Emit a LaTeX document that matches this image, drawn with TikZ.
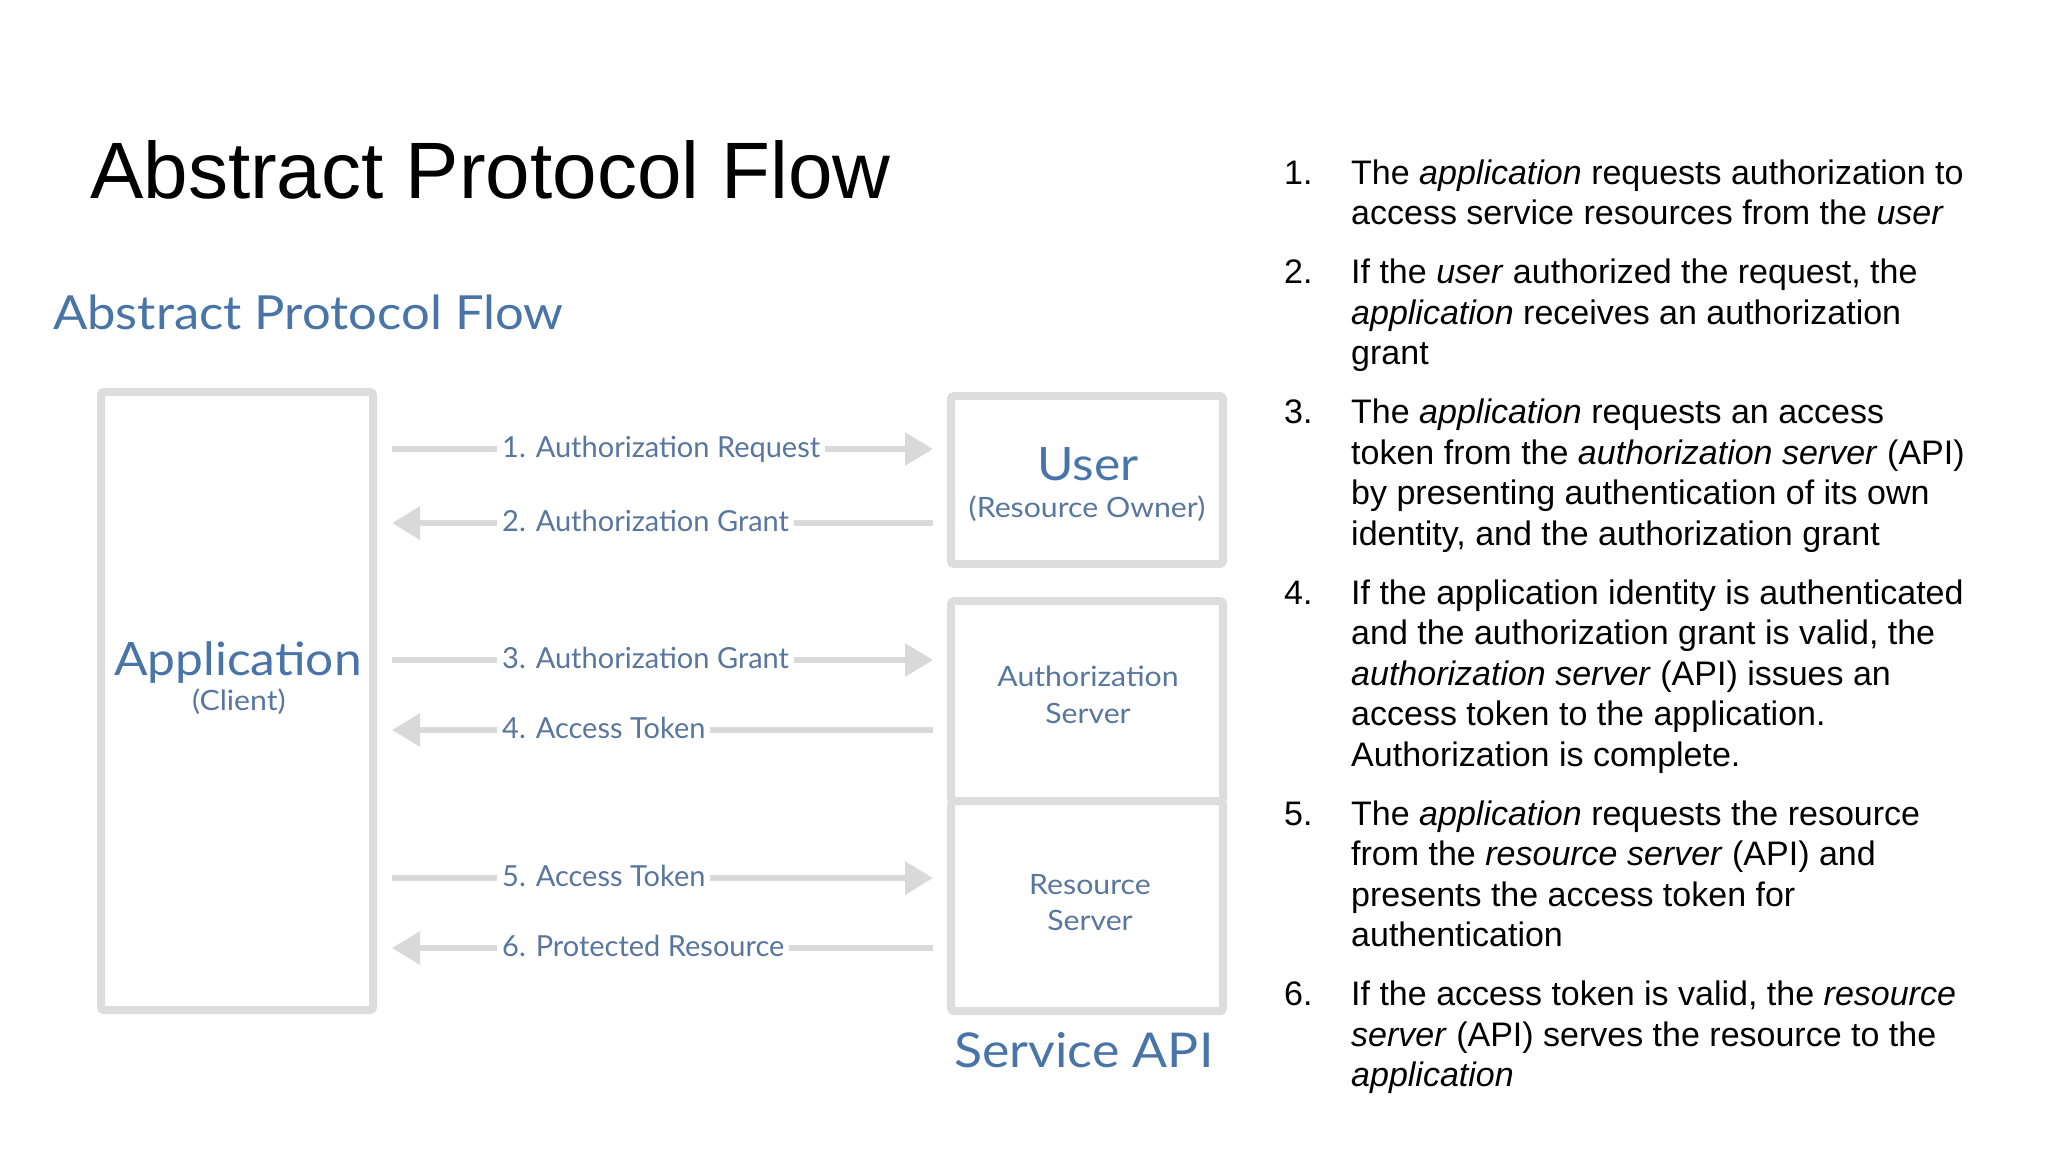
\documentclass[tikz,border=0pt]{standalone}
\usepackage{fontspec}
\setmainfont{Liberation Sans}
\newfontfamily\diagfont{Lato}
\newfontfamily\diagwide{Lato}[FakeStretch=1.08]
\usetikzlibrary{arrows.meta}
\definecolor{boxgray}{RGB}{221,221,221}
\definecolor{arrowgray}{RGB}{217,217,217}
\definecolor{bigblue}{RGB}{72,116,168}
\definecolor{smallblue}{RGB}{88,118,158}
\begin{document}
\begin{tikzpicture}[x=1pt,y=-1pt,
  box/.style={draw=boxgray, line width=8pt, rounded corners=3pt, inner sep=0pt, minimum width=272pt},
  flow/.style={draw=arrowgray, line width=6pt, -{Triangle[length=28pt,width=32pt]}},
  fwd/.style={flow, shorten <=15pt, shorten >=14pt},
  bwd/.style={flow, shorten <=14pt, shorten >=15pt},
  lbl/.style={anchor=base west, fill=white, inner xsep=5pt, inner ysep=3pt, text=smallblue, font=\diagfont\fontsize{29}{34}\selectfont},
  bigtxt/.style={anchor=base, inner sep=0pt, text=bigblue, font=\diagwide\fontsize{46}{55}\selectfont},
  smalltxt/.style={anchor=base, inner sep=0pt, text=smallblue, font=\diagwide\fontsize{28}{33}\selectfont},
  num/.style={anchor=base west, inner sep=0pt, font=\fontsize{34}{40}\selectfont},
  itm/.style={anchor=base west, inner sep=0pt, font=\fontsize{34}{40}\selectfont}]
\useasboundingbox (0,0) rectangle (2048,1152);

% titles
\node[anchor=base west, inner sep=0pt, font=\fontsize{80}{96}\selectfont] (title) at (90,198) {Abstract Protocol Flow};
\node[anchor=base west, inner sep=0pt, text=bigblue, font=\diagwide\fontsize{47}{56}\selectfont] (sub) at (53,329) {Abstract Protocol Flow};

% boxes
\node[box, minimum height=618pt] (app) at (237,701) {};
\node[box, minimum height=168pt] (user) at (1087,480) {};
\node[box, minimum height=200pt] (auth) at (1087,701) {};
\node[box, minimum height=210pt] (res) at (1087,906) {};

% box texts
\node[bigtxt] (apptxt) at (238,675) {Application};
\node[smalltxt] (appsub) at (239,710) {(Client)};
\node[bigtxt] (usertxt) at (1088,480) {User};
\node[smalltxt] (usersub) at (1087,517) {(Resource Owner)};
\node[smalltxt] (auth1) at (1088,686) {Authorization};
\node[smalltxt] (auth2) at (1088,723) {Server};
\node[smalltxt] (res1) at (1090,894) {Resource};
\node[smalltxt] (res2) at (1090,930) {Server};
\node[bigtxt, font=\diagwide\fontsize{48}{57}\selectfont] (api) at (1084,1067) {Service API};

% arrows
\draw[fwd] (app.east |- 0,449) -- (user.west |- 0,449);
\draw[bwd] (user.west |- 0,523) -- (app.east |- 0,523);
\draw[fwd] (app.east |- 0,660) -- (auth.west |- 0,660);
\draw[bwd] (auth.west |- 0,730) -- (app.east |- 0,730);
\draw[fwd] (app.east |- 0,878) -- (res.west |- 0,878);
\draw[bwd] (res.west |- 0,948) -- (app.east |- 0,948);

% arrow labels
\node[lbl] (l1) at (497,457) {1. Authorization Request};
\node[lbl] (l2) at (497,531) {2. Authorization Grant};
\node[lbl] (l3) at (497,668) {3. Authorization Grant};
\node[lbl] (l4) at (497,738) {4. Access Token};
\node[lbl] (l5) at (497,886) {5. Access Token};
\node[lbl] (l6) at (497,956) {6. Protected Resource};

% numbered list
\node[num] (n1) at (1284,184) {1.};
\node[itm] (t1a) at (1351,184) {The \emph{application} requests authorization to};
\node[itm] (t1b) at (1351,224.5) {access service resources from the \emph{user}};
\node[num] (n2) at (1284,283.5) {2.};
\node[itm] (t2a) at (1351,283.5) {If the \emph{user} authorized the request, the};
\node[itm] (t2b) at (1351,324) {\emph{application} receives an authorization};
\node[itm] (t2c) at (1351,364.5) {grant};
\node[num] (n3) at (1284,423.5) {3.};
\node[itm] (t3a) at (1351,423.5) {The \emph{application} requests an access};
\node[itm] (t3b) at (1351,464) {token from the \emph{authorization server} (API)};
\node[itm] (t3c) at (1351,504.5) {by presenting authentication of its own};
\node[itm] (t3d) at (1351,545) {identity, and the authorization grant};
\node[num] (n4) at (1284,604) {4.};
\node[itm] (t4a) at (1351,604) {If the application identity is authenticated};
\node[itm] (t4b) at (1351,644.5) {and the authorization grant is valid, the};
\node[itm] (t4c) at (1351,685) {\emph{authorization server} (API) issues an};
\node[itm] (t4d) at (1351,725.5) {access token to the application.};
\node[itm] (t4e) at (1351,766) {Authorization is complete.};
\node[num] (n5) at (1284,825) {5.};
\node[itm] (t5a) at (1351,825) {The \emph{application} requests the resource};
\node[itm] (t5b) at (1351,865.5) {from the \emph{resource server} (API) and};
\node[itm] (t5c) at (1351,906) {presents the access token for};
\node[itm] (t5d) at (1351,946.5) {authentication};
\node[num] (n6) at (1284,1005.5) {6.};
\node[itm] (t6a) at (1351,1005.5) {If the access token is valid, the \emph{resource}};
\node[itm] (t6b) at (1351,1046) {\emph{server} (API) serves the resource to the};
\node[itm] (t6c) at (1351,1086.5) {\emph{application}};
\end{tikzpicture}
\end{document}
